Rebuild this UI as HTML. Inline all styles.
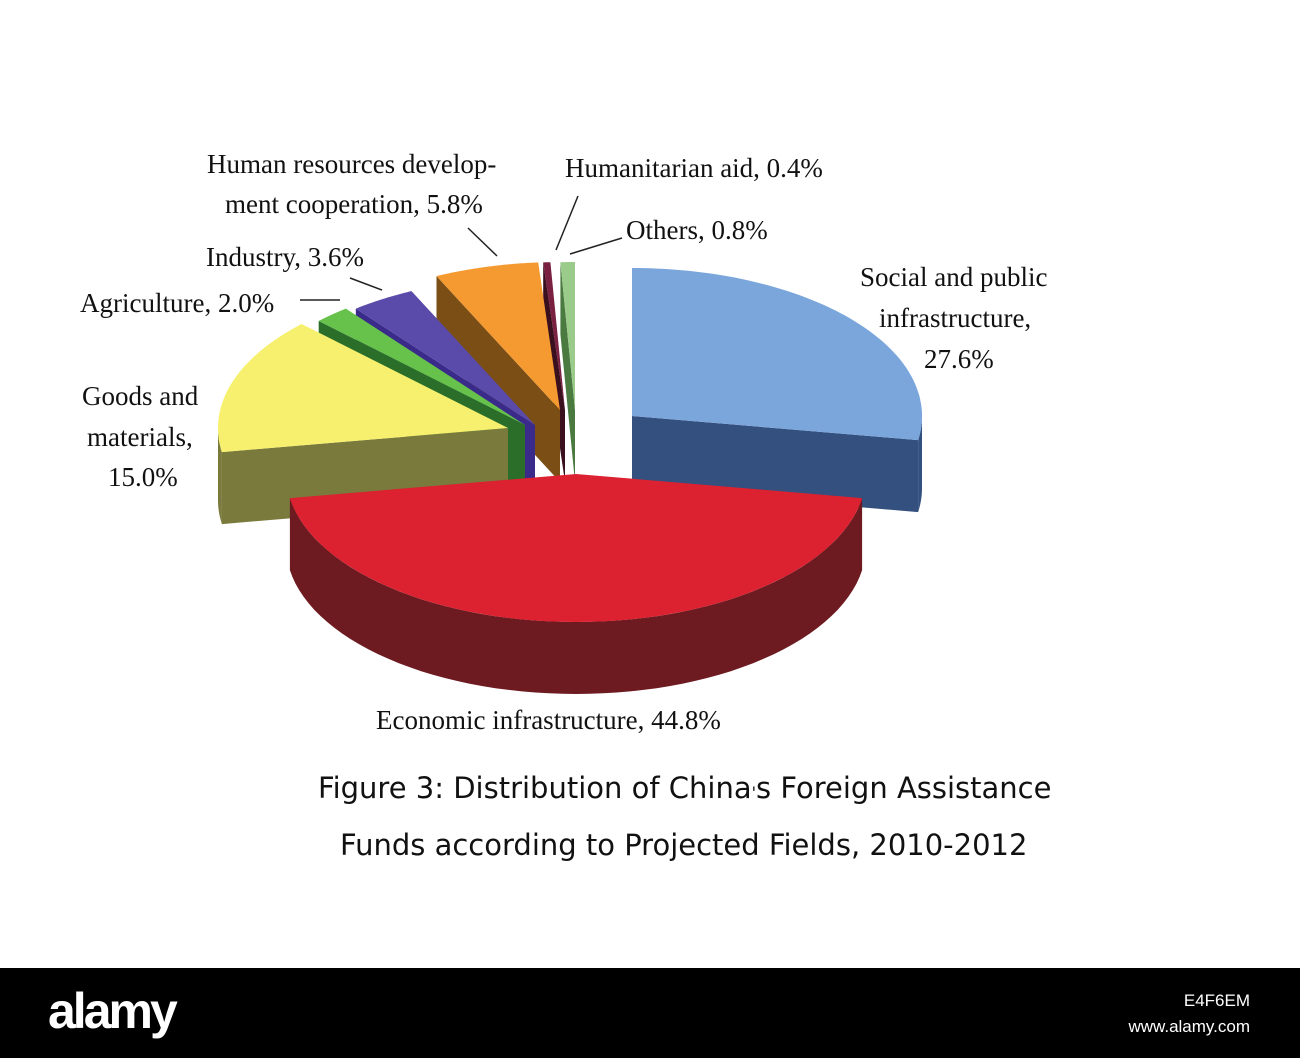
<!DOCTYPE html>
<html><head><meta charset="utf-8"><style>
body{margin:0;width:1300px;height:1058px;background:#fff;overflow:hidden;position:relative;font-family:"Liberation Serif",serif}
.lbl{position:absolute;font-size:27px;color:#111;white-space:nowrap;line-height:40px}
.title{position:absolute;font-family:"DejaVu Sans","Liberation Sans",sans-serif;font-size:29px;color:#111;white-space:nowrap}
#bar{position:absolute;left:0;top:968px;width:1300px;height:90px;background:#000}
</style></head><body>
<svg id="chart" width="1300" height="968" style="position:absolute;left:0;top:0">
<g id="slices"></g>
<g stroke="#222" stroke-width="1.5" fill="none">
<line x1="300" y1="300" x2="340" y2="300"/>
<line x1="350" y1="278" x2="382" y2="290"/>
<line x1="468" y1="228" x2="497" y2="256"/>
<line x1="578" y1="196" x2="556" y2="250"/>
<line x1="622" y1="238" x2="570" y2="254"/>
</g>
</svg>
<div class="lbl" style="left:207px;top:144px">Human resources develop-</div>
<div class="lbl" style="left:225px;top:184px">ment cooperation, 5.8%</div>
<div class="lbl" style="left:565px;top:148px">Humanitarian aid, 0.4%</div>
<div class="lbl" style="left:626px;top:210px">Others, 0.8%</div>
<div class="lbl" style="left:206px;top:237px">Industry, 3.6%</div>
<div class="lbl" style="left:80px;top:283px">Agriculture, 2.0%</div>
<div class="lbl" style="left:860px;top:257px">Social and public</div>
<div class="lbl" style="left:879px;top:298px">infrastructure,</div>
<div class="lbl" style="left:924px;top:339px">27.6%</div>
<div class="lbl" style="left:82px;top:376px">Goods and</div>
<div class="lbl" style="left:87px;top:417px">materials,</div>
<div class="lbl" style="left:108px;top:457px">15.0%</div>
<div class="lbl" style="left:376px;top:700px">Economic infrastructure, 44.8%</div>
<div class="title" style="left:318px;top:771px">Figure 3: Distribution of China<span style="font-size:16px">'</span>s Foreign Assistance</div>
<div class="title" style="left:340px;top:828px">Funds according to Projected Fields, 2010-2012</div>
<div id="bar">
<div style="position:absolute;left:48px;top:14px;color:#fff;font-family:'Liberation Sans',sans-serif;font-size:50px;font-weight:bold;letter-spacing:-3px">alamy</div>
<div style="position:absolute;right:50px;top:20px;color:#fff;font-family:'Liberation Sans',sans-serif;font-size:17px;text-align:right;line-height:26px">E4F6EM<br>www.alamy.com</div>
</div>
<script>
const categories=["Social and public infrastructure","Economic infrastructure","Goods and materials","Agriculture","Industry","Human resources development cooperation","Humanitarian aid","Others"];
const values=[27.6,44.8,15.0,2.0,3.6,5.8,0.4,0.8];
const topColors=["#7aa6dc","#dc2130","#f7f06e","#66c24a","#5a4aaa","#f59a30","#7a2040","#9acb8a"];
const sideColors=["#34507f","#6d1a20","#7a7a3c","#2a6e2a","#3a2a8a","#7a4e14","#3a0f1e","#4a7a40"];
const centers=[[632,416],[576,474],[508,428],[525,425],[535,425],[560,410],[565,410],[575,410]];
const drawOrder=[7,6,5,4,3,2,0,1];
const RX=290,RY=148,DEPTH=72;
const total=values.reduce((a,b)=>a+b,0);
const starts=[];let acc=0;values.forEach(v=>{starts.push(acc/total*360);acc+=v;});
const g=document.getElementById('slices');
const NS="http://www.w3.org/2000/svg";
function pt(c,a,dy){const r=a*Math.PI/180;return [c[0]+RX*Math.sin(r),c[1]-RY*Math.cos(r)+(dy||0)];}
function poly(pts,fill,name){const p=document.createElementNS(NS,'polygon');p.setAttribute('points',pts.map(q=>q[0].toFixed(1)+','+q[1].toFixed(1)).join(' '));p.setAttribute('fill',fill);


g.appendChild(p);}
drawOrder.forEach(i=>{
 const c=centers[i],s=starts[i],e=s+values[i]/total*360,slug='slice-'+i;
 const sr=s*Math.PI/180,er=e*Math.PI/180;
 if(Math.sin(sr)<0){const p=pt(c,s);poly([c,p,[p[0],p[1]+DEPTH],[c[0],c[1]+DEPTH]],sideColors[i],slug+'-start-face');}
 if(Math.sin(er)>0){const p=pt(c,e);poly([c,p,[p[0],p[1]+DEPTH],[c[0],c[1]+DEPTH]],sideColors[i],slug+'-end-face');}
 const a0=Math.max(s,90),a1=Math.min(e,270);
 if(a1>a0){const top=[],bot=[];for(let k=0;k<=60;k++){const a=a0+(a1-a0)*k/60;top.push(pt(c,a));bot.unshift(pt(c,a,DEPTH));}poly(top.concat(bot),sideColors[i],slug+'-outer-wall');}
 const tp=[c];for(let k=0;k<=80;k++){tp.push(pt(c,s+(e-s)*k/80));}
 poly(tp,topColors[i],slug+'-top');
});
</script>
</body></html>
